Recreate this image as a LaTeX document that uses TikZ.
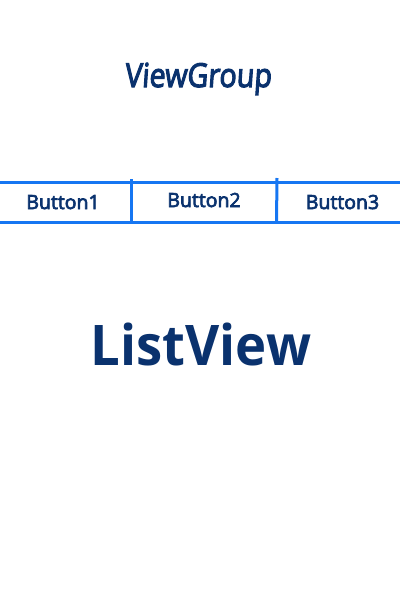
\documentclass[tikz,border=0pt]{standalone}
\usepackage{fontspec}
\setmainfont{Open Sans}
\newfontfamily\medfont[FakeBold=3.5]{Open Sans}
\definecolor{txtblue}{RGB}{10,50,110}
\definecolor{lineblue}{RGB}{22,118,242}
\begin{document}
\begin{tikzpicture}[x=1pt,y=-1pt,
  lbl/.style={text=txtblue,inner sep=0pt,anchor=base},
  btn/.style={lbl,font=\medfont\fontsize{19.5}{22}\selectfont},
  bar/.style={draw=lineblue,line width=3pt}]
\useasboundingbox (0,0) rectangle (400,600);
\node[lbl,font=\medfont\fontsize{33}{36}\selectfont,xscale=0.87,xslant=0.08] (vg) at (198,87) {ViewGroup};
\coordinate (tl) at (0,182.5);
\coordinate (tr) at (400,182.5);
\coordinate (bl) at (0,222.5);
\coordinate (br) at (400,222.5);
\coordinate (v1t) at (131.5,179);
\coordinate (v1b) at (131.5,222.5);
\coordinate (v2t) at (277,178);
\coordinate (v2b) at (276.5,222.5);
\draw[bar] (tl) -- (tr);
\draw[bar] (bl) -- (br);
\draw[bar] (v1t) -- (v1b);
\draw[bar] (v2t) -- (v2b);
\node[btn] (b1) at (63,209) {Button1};
\node[btn] (b2) at (204,207) {Button2};
\node[btn] (b3) at (342.5,209) {Button3};
\node[lbl,font=\fontsize{56}{60}\selectfont\bfseries,xscale=0.94] (lv) at (201,365) {ListView};
\end{tikzpicture}
\end{document}
